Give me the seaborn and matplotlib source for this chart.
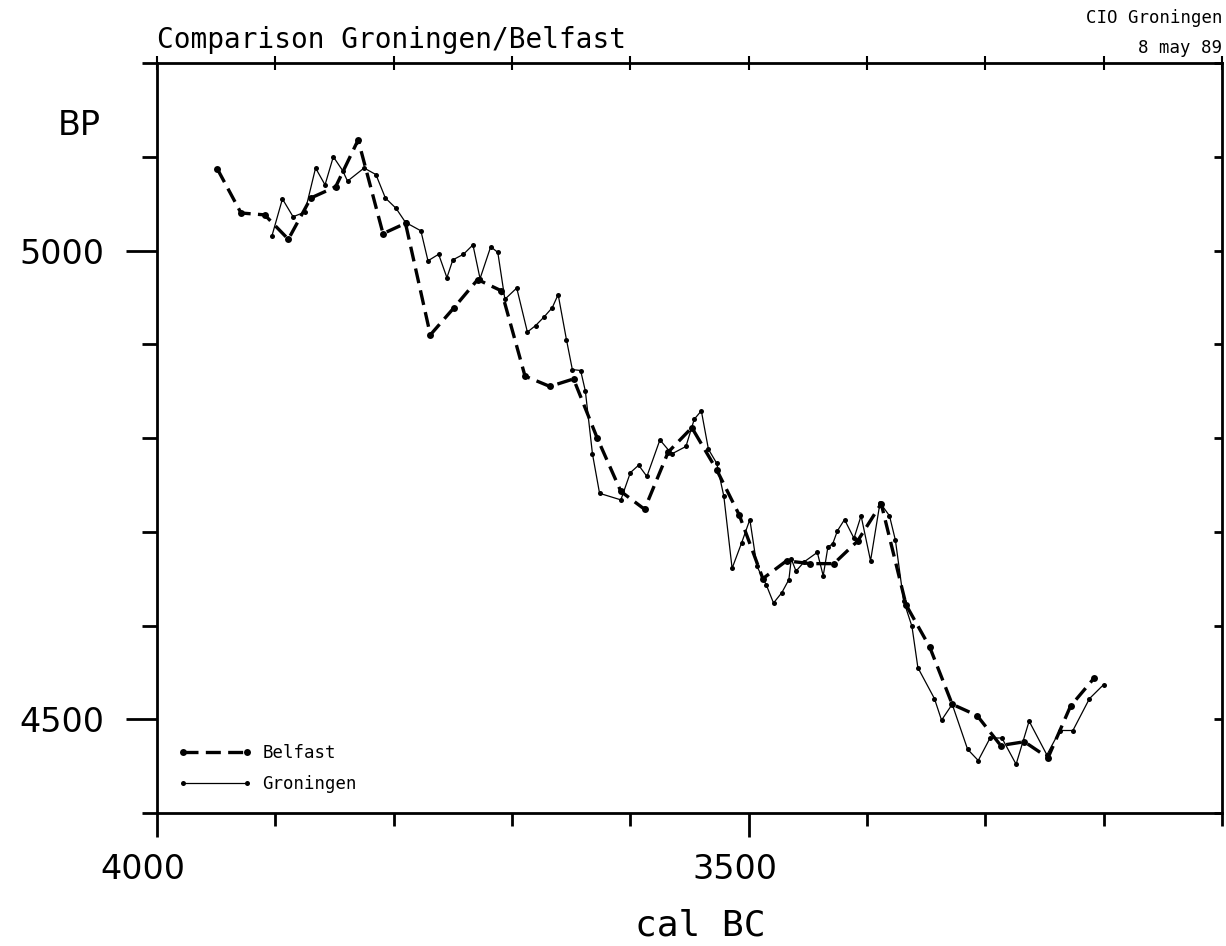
import matplotlib
matplotlib.use("Agg")
import matplotlib.pyplot as plt
import matplotlib.transforms as mtransforms
from matplotlib.ticker import MultipleLocator, FixedLocator
import seaborn as sns
import pandas as pd

# ---------------- data ----------------
belfast_calbc = [3949, 3929, 3909, 3889, 3870, 3849, 3830, 3809, 3790, 3769,
                 3749, 3729, 3709, 3689, 3668, 3648, 3628, 3608, 3588, 3568,
                 3548, 3527, 3508, 3488, 3468, 3448, 3428, 3408, 3388, 3367,
                 3347, 3328, 3307, 3287, 3267, 3247, 3228, 3208]
belfast_bp = [5087, 5040, 5038, 5012, 5056, 5068, 5118, 5018, 5029, 4910,
              4939, 4969, 4957, 4866, 4855, 4863, 4800, 4743, 4724, 4785,
              4811, 4766, 4718, 4650, 4669, 4666, 4666, 4690, 4730, 4622,
              4577, 4516, 4504, 4472, 4476, 4459, 4514, 4544]

groningen_calbc = [3903, 3894, 3885, 3875, 3866, 3858, 3851, 3843, 3839, 3825,
                   3815, 3807, 3798, 3790, 3777, 3771, 3762, 3755, 3750, 3741,
                   3733, 3727, 3718, 3712, 3706, 3696, 3687, 3680, 3673, 3666,
                   3661, 3654, 3649, 3642, 3638, 3632, 3626, 3608, 3600, 3593,
                   3586, 3575, 3565, 3553, 3546, 3540, 3534, 3527, 3521, 3514,
                   3506, 3499, 3493, 3485, 3479, 3472, 3466, 3464, 3460, 3453,
                   3442, 3437, 3433, 3429, 3425, 3419, 3411, 3405, 3397, 3389,
                   3381, 3376, 3369, 3362, 3357, 3343, 3337, 3328, 3315, 3306,
                   3296, 3286, 3274, 3263, 3248, 3237, 3226, 3212, 3200]
groningen_bp = [5015, 5055, 5036, 5041, 5088, 5070, 5100, 5085, 5074, 5088,
                5081, 5056, 5045, 5030, 5021, 4989, 4996, 4971, 4990, 4996,
                5006, 4970, 5004, 4998, 4948, 4960, 4913, 4920, 4929, 4939,
                4953, 4905, 4873, 4872, 4850, 4783, 4741, 4734, 4763, 4771,
                4759, 4798, 4783, 4791, 4820, 4829, 4788, 4773, 4738, 4661,
                4688, 4713, 4663, 4643, 4624, 4635, 4649, 4671, 4658, 4668,
                4678, 4653, 4684, 4687, 4701, 4713, 4693, 4717, 4669, 4731,
                4717, 4691, 4626, 4599, 4555, 4522, 4499, 4516, 4468, 4456,
                4480, 4480, 4452, 4498, 4462, 4488, 4488, 4522, 4537]

x_major_ticks = [4000, 3500]
y_major_ticks = [5000, 4500]
title_text = "Comparison Groningen/Belfast"
corner_lines = ["CIO Groningen", "8 may 89"]
series_names = ["Belfast", "Groningen"]

# ---------------- figure ----------------
sns.set_style("ticks")
plt.rcParams["font.family"] = ["DejaVu Sans"]
plt.rcParams["text.color"] = "black"
plt.rcParams["axes.labelcolor"] = "black"
plt.rcParams["xtick.color"] = "black"
plt.rcParams["ytick.color"] = "black"

W, H = 1226, 946
fig = plt.figure(figsize=(W / 100, H / 100), dpi=100)
ax = fig.add_axes([157 / W, 1 - 813 / H, (1222 - 157) / W, (813 - 63) / H])

df_b = pd.DataFrame({"x": belfast_calbc, "y": belfast_bp})
df_g = pd.DataFrame({"x": groningen_calbc, "y": groningen_bp})

sns.lineplot(data=df_b, x="x", y="y", ax=ax, sort=False, estimator=None,
             color="black", linewidth=2.4, linestyle=(0, (4.5, 2.2)),
             marker="o", markersize=5, markeredgewidth=0,
             label=series_names[0])
sns.lineplot(data=df_g, x="x", y="y", ax=ax, sort=False, estimator=None,
             color="black", linewidth=0.9, linestyle="-",
             marker="o", markersize=3.6, markeredgewidth=0,
             label=series_names[1])

ax.set_xlim(4000, 3100)
ax.set_ylim(4400, 5200)
ax.set_xlabel("")
ax.set_ylabel("")

for s in ax.spines.values():
    s.set_linewidth(2.0)
    s.set_color("black")
    s.set_visible(True)

# x ticks (bottom, outward)
ax.xaxis.set_major_locator(FixedLocator(x_major_ticks))
ax.xaxis.set_minor_locator(MultipleLocator(100))
ax.set_xticklabels([str(v) for v in x_major_ticks])
ax.tick_params(axis="x", which="major", direction="out", length=17, width=2,
               labelsize=24, pad=12, top=False, colors="black")
ax.tick_params(axis="x", which="minor", direction="out", length=9, width=2,
               top=False, colors="black")
# y ticks (left, outward)
ax.yaxis.set_major_locator(FixedLocator(y_major_ticks))
ax.yaxis.set_minor_locator(MultipleLocator(100))
ax.set_yticklabels([str(v) for v in y_major_ticks])
ax.tick_params(axis="y", which="major", direction="out", length=22, width=2,
               labelsize=24, pad=16, right=False, colors="black")
ax.tick_params(axis="y", which="minor", direction="out", length=11, width=2,
               right=False, colors="black")

# shift x tick labels slightly left like the plotter output
offset = mtransforms.ScaledTranslation(-14 / 100, 0, fig.dpi_scale_trans)
for lab in ax.get_xticklabels():
    lab.set_transform(lab.get_transform() + offset)

# top ticks (crossing the spine)
top = ax.secondary_xaxis("top")
top.xaxis.set_major_locator(MultipleLocator(100))
top.tick_params(direction="inout", length=10, width=1.5, labeltop=False,
                colors="black")
top.spines["top"].set_visible(False)
# right ticks (inward)
right = ax.secondary_yaxis("right")
right.yaxis.set_major_locator(MultipleLocator(100))
right.tick_params(direction="in", length=6, width=2, labelright=False,
                  colors="black")
right.spines["right"].set_visible(False)

# legend
leg = ax.legend(loc="upper left", bbox_to_anchor=(178 / W, 1 - 744 / H),
                bbox_transform=fig.transFigure, frameon=False,
                handlelength=4.3, handletextpad=0.55, labelspacing=0.75,
                numpoints=2, borderpad=0, borderaxespad=0,
                prop={"family": "DejaVu Sans Mono", "size": 12.5})
for t in leg.get_texts():
    t.set_color("black")

# texts
fig.text(157 / W, 1 - 40 / H, title_text, family="DejaVu Sans Mono",
         fontsize=20, ha="left", va="center", color="black")
fig.text(1222 / W, 1 - 18 / H, corner_lines[0], family="DejaVu Sans Mono",
         fontsize=12.5, ha="right", va="center", color="black")
fig.text(1222 / W, 1 - 48 / H, corner_lines[1], family="DejaVu Sans Mono",
         fontsize=12.5, ha="right", va="center", color="black")
fig.text(58 / W, 1 - 125 / H, "BP", fontsize=24, ha="left", va="center",
         color="black")
fig.text(700 / W, 1 - 925 / H, "cal BC", family="DejaVu Sans Mono",
         fontsize=26, ha="center", va="center", color="black")

fig.savefig("out.png", dpi=100, facecolor="white")
